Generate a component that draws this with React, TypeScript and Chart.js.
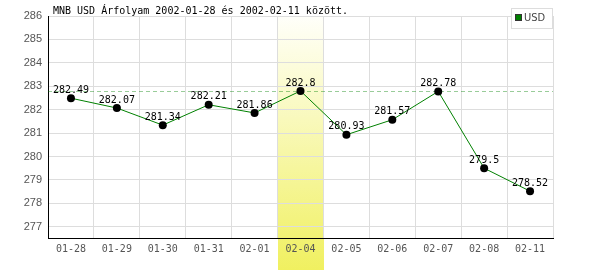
import React, { useEffect, useRef } from "react";
import { Chart, registerables } from "chart.js";

Chart.register(...registerables);

const categories = ["01-28", "01-29", "01-30", "01-31", "02-01", "02-04", "02-05", "02-06", "02-07", "02-08", "02-11"];
const usdValues = [282.49, 282.07, 281.34, 282.21, 281.86, 282.8, 280.93, 281.57, 282.78, 279.5, 278.52];
const yTicks = [277, 278, 279, 280, 281, 282, 283, 284, 285, 286];
const highlightCategory = "02-04";
const titleText = "MNB USD Árfolyam 2002-01-28 és 2002-02-11 között.";
const seriesName = "USD";

const MONO = "'DejaVu Sans Mono', monospace";

export default function App() {
  const ref = useRef<HTMLCanvasElement | null>(null);
  useEffect(() => {
    if (!ref.current) return;
    const maxVal = Math.max(...usdValues);
    const minVal = Math.min(...usdValues);

    const decor = {
      id: "decor",
      beforeDraw(chart: any) {
        const { ctx, chartArea } = chart;
        const xs = chart.scales.x;
        const idx = categories.indexOf(highlightCategory);
        const w = (chartArea.right - chartArea.left) / categories.length;
        const cx = xs.getPixelForValue(idx);
        const g = ctx.createLinearGradient(0, chartArea.top, 0, chart.height);
        g.addColorStop(0, "rgba(255,255,250,1)");
        g.addColorStop(1, "#f0f060");
        ctx.save();
        ctx.fillStyle = g;
        ctx.fillRect(Math.round(cx - w / 2), chartArea.top, Math.round(w), chart.height - chartArea.top);
        ctx.restore();
      },
      beforeDatasetsDraw(chart: any) {
        const { ctx, chartArea } = chart;
        const y = Math.round(chart.scales.y.getPixelForValue(maxVal)) + 0.5;
        ctx.save();
        ctx.strokeStyle = "rgba(0,128,0,0.4)";
        ctx.lineWidth = 1;
        ctx.setLineDash([4, 3]);
        ctx.beginPath();
        ctx.moveTo(chartArea.left, y);
        ctx.lineTo(chartArea.right, y);
        ctx.stroke();
        ctx.restore();
      },
      afterDraw(chart: any) {
        const { ctx, chartArea } = chart;
        ctx.save();
        // title
        ctx.font = `10px ${MONO}`;
        ctx.fillStyle = "#000";
        ctx.textAlign = "left";
        ctx.textBaseline = "alphabetic";
        ctx.fillText(titleText, chartArea.left + 5, 14);
        // data labels
        const meta = chart.getDatasetMeta(0);
        ctx.textAlign = "center";
        ctx.textBaseline = "bottom";
        meta.data.forEach((pt: any, i: number) => {
          ctx.fillText(String(usdValues[i]), pt.x, pt.y - 3);
        });
        // legend
        const lx = 511.5, ly = 8.5, lw = 41, lh = 20;
        ctx.fillStyle = "#fff";
        ctx.fillRect(lx, ly, lw, lh);
        ctx.strokeStyle = "#ddd";
        ctx.lineWidth = 1;
        ctx.strokeRect(lx, ly, lw, lh);
        ctx.fillStyle = "#008000";
        ctx.fillRect(516, 15, 6, 6);
        ctx.strokeStyle = "#333";
        ctx.strokeRect(515.5, 14.5, 6, 6);
        ctx.fillStyle = "#444";
        ctx.font = "11px 'Liberation Sans Narrow', 'DejaVu Sans Condensed', sans-serif";
        ctx.textAlign = "left";
        ctx.textBaseline = "middle";
        ctx.fillText(seriesName, 524, 18.5);
        ctx.restore();
      },
    };

    const chart = new Chart(ref.current, {
      type: "line",
      data: {
        labels: categories,
        datasets: [
          {
            label: seriesName,
            data: usdValues,
            borderColor: "#008000",
            borderWidth: 1,
            pointRadius: 4,
            pointBackgroundColor: "#000",
            pointBorderColor: "#000",
            pointBorderWidth: 0,
            tension: 0,
          },
        ],
      },
      options: {
        animation: false,
        responsive: false,
        devicePixelRatio: 1,
        layout: { padding: { top: 16, right: 47, left: 0, bottom: 0 } },
        plugins: { legend: { display: false }, tooltip: { enabled: false }, title: { display: false } },
        scales: {
          x: {
            offset: true,
            grid: { offset: true, color: "#dddddd", drawTicks: false },
            border: { color: "#000", width: 1 },
            ticks: { color: "#555", font: { family: MONO, size: 10 }, padding: 5, maxRotation: 0, autoSkip: false },
            afterFit(scale: any) {
              scale.height = 32;
            },
          },
          y: {
            min: minVal - 2,
            max: 286,
            grid: { color: "#dddddd", drawTicks: false },
            border: { color: "#000", width: 1 },
            ticks: { color: "#555", font: { family: "'Liberation Sans', Arial, sans-serif", size: 11 }, padding: 6 },
            afterBuildTicks(scale: any) {
              scale.ticks = yTicks.map((v) => ({ value: v }));
            },
            afterFit(scale: any) {
              scale.width = 48;
            },
          },
        },
      },
      plugins: [decor],
    });
    return () => chart.destroy();
  }, []);
  return (
    <div style={{ position: "fixed", left: 0, top: 0, width: 600, height: 270, background: "#fff" }}>
      <canvas ref={ref} width={600} height={270} style={{ display: "block" }} />
    </div>
  );
}
